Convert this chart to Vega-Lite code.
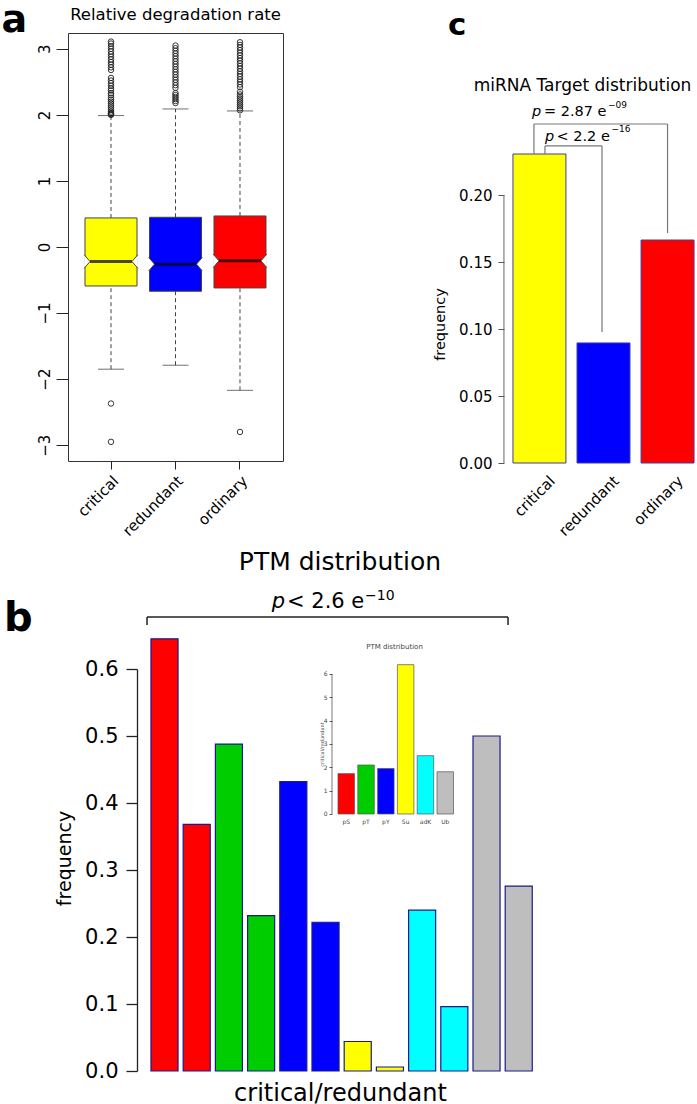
{
 "$schema": "https://vega.github.io/schema/vega-lite/v6.json",
 "background": "white",
 "padding": 0,
 "config": {
  "font": "DejaVu Sans",
  "view": {"stroke": null},
  "axis": {"labelFont": "DejaVu Sans", "titleFont": "DejaVu Sans", "labelColor": "#000", "titleColor": "#000", "tickColor": "#222", "domainColor": "#222", "grid": false, "titleFontWeight": "normal", "labelOverlap": false, "labelFlush": false},
  "title": {"font": "DejaVu Sans", "fontWeight": "normal", "color": "#000"}
 },
 "datasets": {
  "boxes": [
   {"grp": "critical", "lo": -1.85, "q1": -0.59, "med": -0.22, "q3": 0.44, "hi": 1.99},
   {"grp": "redundant", "lo": -1.79, "q1": -0.67, "med": -0.26, "q3": 0.45, "hi": 2.09},
   {"grp": "ordinary", "lo": -2.17, "q1": -0.62, "med": -0.21, "q3": 0.47, "hi": 2.06}
  ],
  "outliers": [
   {"grp":"critical","v":2.0},{"grp":"critical","v":2.01},{"grp":"critical","v":2.02},{"grp":"critical","v":2.03},{"grp":"critical","v":2.05},{"grp":"critical","v":2.08},{"grp":"critical","v":2.11},{"grp":"critical","v":2.14},{"grp":"critical","v":2.17},{"grp":"critical","v":2.2},{"grp":"critical","v":2.23},{"grp":"critical","v":2.26},{"grp":"critical","v":2.3},{"grp":"critical","v":2.33},{"grp":"critical","v":2.37},{"grp":"critical","v":2.4},{"grp":"critical","v":2.44},{"grp":"critical","v":2.48},{"grp":"critical","v":2.52},{"grp":"critical","v":2.56},{"grp":"critical","v":2.68},{"grp":"critical","v":2.72},{"grp":"critical","v":2.76},{"grp":"critical","v":2.8},{"grp":"critical","v":2.84},{"grp":"critical","v":2.88},{"grp":"critical","v":2.92},{"grp":"critical","v":2.96},{"grp":"critical","v":3.0},{"grp":"critical","v":3.04},{"grp":"critical","v":3.08},{"grp":"critical","v":3.11},{"grp":"critical","v":-2.37},{"grp":"critical","v":-2.95},
   {"grp":"redundant","v":2.18},{"grp":"redundant","v":2.21},{"grp":"redundant","v":2.24},{"grp":"redundant","v":2.27},{"grp":"redundant","v":2.3},{"grp":"redundant","v":2.33},{"grp":"redundant","v":2.41},{"grp":"redundant","v":2.45},{"grp":"redundant","v":2.49},{"grp":"redundant","v":2.53},{"grp":"redundant","v":2.57},{"grp":"redundant","v":2.61},{"grp":"redundant","v":2.65},{"grp":"redundant","v":2.69},{"grp":"redundant","v":2.73},{"grp":"redundant","v":2.77},{"grp":"redundant","v":2.81},{"grp":"redundant","v":2.85},{"grp":"redundant","v":2.89},{"grp":"redundant","v":2.93},{"grp":"redundant","v":2.97},{"grp":"redundant","v":3.01},{"grp":"redundant","v":3.05},
   {"grp":"ordinary","v":2.07},{"grp":"ordinary","v":2.1},{"grp":"ordinary","v":2.13},{"grp":"ordinary","v":2.16},{"grp":"ordinary","v":2.19},{"grp":"ordinary","v":2.22},{"grp":"ordinary","v":2.25},{"grp":"ordinary","v":2.28},{"grp":"ordinary","v":2.31},{"grp":"ordinary","v":2.35},{"grp":"ordinary","v":2.42},{"grp":"ordinary","v":2.46},{"grp":"ordinary","v":2.5},{"grp":"ordinary","v":2.54},{"grp":"ordinary","v":2.58},{"grp":"ordinary","v":2.62},{"grp":"ordinary","v":2.66},{"grp":"ordinary","v":2.7},{"grp":"ordinary","v":2.74},{"grp":"ordinary","v":2.78},{"grp":"ordinary","v":2.82},{"grp":"ordinary","v":2.86},{"grp":"ordinary","v":2.9},{"grp":"ordinary","v":2.94},{"grp":"ordinary","v":2.98},{"grp":"ordinary","v":3.02},{"grp":"ordinary","v":3.06},{"grp":"ordinary","v":3.1},{"grp":"ordinary","v":-2.8}
  ],
  "mirna": [
   {"grp": "critical", "freq": 0.2306},
   {"grp": "redundant", "freq": 0.0896},
   {"grp": "ordinary", "freq": 0.1664}
  ],
  "ptm": [
   {"ptm": "pS", "cls": "critical", "freq": 0.645},
   {"ptm": "pS", "cls": "redundant", "freq": 0.368},
   {"ptm": "pT", "cls": "critical", "freq": 0.488},
   {"ptm": "pT", "cls": "redundant", "freq": 0.232},
   {"ptm": "pY", "cls": "critical", "freq": 0.432},
   {"ptm": "pY", "cls": "redundant", "freq": 0.222},
   {"ptm": "Su", "cls": "critical", "freq": 0.044},
   {"ptm": "Su", "cls": "redundant", "freq": 0.006},
   {"ptm": "adK", "cls": "critical", "freq": 0.24},
   {"ptm": "adK", "cls": "redundant", "freq": 0.096},
   {"ptm": "Ub", "cls": "critical", "freq": 0.5},
   {"ptm": "Ub", "cls": "redundant", "freq": 0.276}
  ],
  "ratio": [
   {"ptm": "pS", "ratio": 1.73},
   {"ptm": "pT", "ratio": 2.1},
   {"ptm": "pY", "ratio": 1.95},
   {"ptm": "Su", "ratio": 6.4},
   {"ptm": "adK", "ratio": 2.5},
   {"ptm": "Ub", "ratio": 1.81}
  ]
 },
 "columns": 2,
 "align": "none",
 "bounds": "flush",
 "spacing": {"row": 206, "column": -42},
 "resolve": {"scale": {"fill": "independent"}},
 "concat": [
  {
   "width": 215,
   "height": 428,
   "view": {"stroke": "#333", "strokeWidth": 1},
   "title": {"text": "Relative degradation rate", "anchor": "middle", "frame": "group", "fontSize": 16.5, "baseline": "alphabetic", "offset": -35},
   "layer": [
    {"data": {"name": "boxes"}, "mark": {"type": "rule", "strokeDash": [4, 3], "color": "#444", "strokeWidth": 1},
     "encoding": {
      "x": {"field": "grp", "type": "nominal", "sort": ["critical", "redundant", "ordinary"], "scale": {"paddingInner": 0, "paddingOuter": 0.1667},
            "axis": {"title": null, "labelAngle": -45, "labelAlign": "right", "labelBaseline": "top", "labelFontSize": 15, "tickSize": 8, "labelPadding": 4, "domain": false}},
      "y": {"field": "q3", "type": "quantitative", "scale": {"domain": [-3.24, 3.24], "nice": false, "zero": false},
            "axis": {"values": [-3, -2, -1, 0, 1, 2, 3], "format": "d", "labelAngle": -90, "labelAlign": "center", "labelBaseline": "bottom", "labelFontSize": 15, "tickSize": 12, "labelPadding": 4, "domain": false,
                     "title": "a", "titleAngle": 0, "titleX": -67, "titleY": -2, "titleAlign": "left", "titleBaseline": "alphabetic", "titleFontSize": 38, "titleFontWeight": "bold"}},
      "y2": {"field": "hi"}
     }},
    {"data": {"name": "boxes"}, "mark": {"type": "rule", "strokeDash": [4, 3], "color": "#444", "strokeWidth": 1},
     "encoding": {"x": {"field": "grp", "type": "nominal", "sort": ["critical", "redundant", "ordinary"]}, "y": {"field": "lo", "type": "quantitative"}, "y2": {"field": "q1"}}},
    {"data": {"name": "boxes"}, "mark": {"type": "tick", "size": 26, "thickness": 1, "color": "#333"},
     "encoding": {"x": {"field": "grp", "type": "nominal", "sort": ["critical", "redundant", "ordinary"]}, "y": {"field": "hi", "type": "quantitative"}}},
    {"data": {"name": "boxes"}, "mark": {"type": "tick", "size": 26, "thickness": 1, "color": "#333"},
     "encoding": {"x": {"field": "grp", "type": "nominal", "sort": ["critical", "redundant", "ordinary"]}, "y": {"field": "lo", "type": "quantitative"}}},
    {"data": {"name": "boxes"}, "mark": {"type": "bar", "width": 52, "stroke": "#444", "strokeWidth": 1},
     "encoding": {"x": {"field": "grp", "type": "nominal", "sort": ["critical", "redundant", "ordinary"]}, "y": {"field": "q1", "type": "quantitative"}, "y2": {"field": "q3"},
      "fill": {"field": "grp", "type": "nominal", "scale": {"domain": ["critical", "redundant", "ordinary"], "range": ["#ffff00", "#0000ff", "#ff0000"]}, "legend": null}}},
    {"data": {"name": "boxes"}, "mark": {"type": "point", "shape": "M-0.12,-1L0.75,0L-0.12,1", "size": 180, "filled": true, "fill": "white", "stroke": "#444", "strokeWidth": 1, "opacity": 1, "xOffset": -26},
     "encoding": {"x": {"field": "grp", "type": "nominal", "sort": ["critical", "redundant", "ordinary"]}, "y": {"field": "med", "type": "quantitative"}}},
    {"data": {"name": "boxes"}, "mark": {"type": "point", "shape": "M0.12,-1L-0.75,0L0.12,1", "size": 180, "filled": true, "fill": "white", "stroke": "#444", "strokeWidth": 1, "opacity": 1, "xOffset": 26},
     "encoding": {"x": {"field": "grp", "type": "nominal", "sort": ["critical", "redundant", "ordinary"]}, "y": {"field": "med", "type": "quantitative"}}},
    {"data": {"name": "boxes"}, "mark": {"type": "tick", "size": 42, "thickness": 3, "color": "#000"},
     "encoding": {"x": {"field": "grp", "type": "nominal", "sort": ["critical", "redundant", "ordinary"]}, "y": {"field": "med", "type": "quantitative"}}},
    {"data": {"name": "outliers"}, "mark": {"type": "point", "filled": false, "size": 30, "stroke": "#222", "strokeWidth": 0.9, "opacity": 1},
     "encoding": {"x": {"field": "grp", "type": "nominal", "sort": ["critical", "redundant", "ordinary"]}, "y": {"field": "v", "type": "quantitative"}}}
   ]
  },
  {
   "width": 199,
   "height": 430,
   "title": {"text": "c", "anchor": "start", "frame": "group", "dx": -56, "offset": -33, "baseline": "alphabetic", "fontSize": 31, "fontWeight": "bold"},
   "layer": [
    {"data": {"name": "mirna"}, "mark": {"type": "bar", "stroke": "#3d3da0", "strokeWidth": 1},
     "encoding": {
      "x": {"field": "grp", "type": "nominal", "sort": ["critical", "redundant", "ordinary"], "scale": {"paddingInner": 0.173, "paddingOuter": 0.14},
            "axis": {"title": "miRNA Target distribution", "titleX": 78, "titleY": -373, "titleAlign": "center", "titleBaseline": "alphabetic", "titleFontSize": 17,
                     "labelAngle": -45, "labelAlign": "right", "labelBaseline": "top", "labelFontSize": 15, "labelOffset": 8, "labelPadding": 10, "ticks": false, "domain": false}},
      "y": {"field": "freq", "type": "quantitative", "scale": {"domain": [0, 0.3209], "nice": false},
            "axis": {"title": "frequency", "values": [0, 0.05, 0.1, 0.15, 0.2], "format": ".2f", "labelFontSize": 15, "tickSize": 6, "labelPadding": 6, "domain": false, "tickColor": "#555",
                     "titleFontSize": 14.5, "titleX": -64, "titleY": 291, "titleAngle": -90, "titleAlign": "center", "titleBaseline": "middle"}},
      "fill": {"field": "grp", "type": "nominal", "scale": {"domain": ["critical", "redundant", "ordinary"], "range": ["#ffff00", "#0000ff", "#ff0000"]}, "legend": null}
     }},
    {"data": {"values": [{}]}, "mark": {"type": "rule", "color": "#666", "strokeWidth": 1, "xOffset": -35.5},
     "encoding": {"x": {"datum": "critical"}, "y": {"datum": 0}, "y2": {"datum": 0.2}}},
    {"data": {"values": [{}]}, "mark": {"type": "rule", "color": "#777", "strokeWidth": 1.2, "xOffset": -5.5},
     "encoding": {"x": {"datum": "critical"}, "y": {"datum": 0.2306}, "y2": {"datum": 0.253}}},
    {"data": {"values": [{}]}, "mark": {"type": "rule", "color": "#777", "strokeWidth": 1.2, "xOffset": -5.5, "x2Offset": 0},
     "encoding": {"x": {"datum": "critical"}, "x2": {"datum": "ordinary"}, "y": {"datum": 0.253}}},
    {"data": {"values": [{}]}, "mark": {"type": "rule", "color": "#777", "strokeWidth": 1.2},
     "encoding": {"x": {"datum": "ordinary"}, "y": {"datum": 0.253}, "y2": {"datum": 0.1716}}},
    {"data": {"values": [{}]}, "mark": {"type": "rule", "color": "#777", "strokeWidth": 1.2, "xOffset": 5.5},
     "encoding": {"x": {"datum": "critical"}, "y": {"datum": 0.2306}, "y2": {"datum": 0.2366}}},
    {"data": {"values": [{}]}, "mark": {"type": "rule", "color": "#777", "strokeWidth": 1.2, "xOffset": 5.5, "x2Offset": -1.5},
     "encoding": {"x": {"datum": "critical"}, "x2": {"datum": "redundant"}, "y": {"datum": 0.2366}}},
    {"data": {"values": [{}]}, "mark": {"type": "rule", "color": "#777", "strokeWidth": 1.2, "xOffset": -1.5},
     "encoding": {"x": {"datum": "redundant"}, "y": {"datum": 0.2366}, "y2": {"datum": 0.0978}}},
    {"data": {"values": [{}]}, "mark": {"type": "text", "text": "p", "fontStyle": "italic", "fontSize": 14.5, "align": "left", "baseline": "alphabetic", "dx": -7.5},
     "encoding": {"x": {"datum": "critical"}, "y": {"datum": 0.259}}},
    {"data": {"values": [{}]}, "mark": {"type": "text", "text": "= 2.87 e", "fontSize": 14.5, "align": "left", "baseline": "alphabetic", "dx": 4.5},
     "encoding": {"x": {"datum": "critical"}, "y": {"datum": 0.259}}},
    {"data": {"values": [{}]}, "mark": {"type": "text", "text": "−09", "fontSize": 9, "align": "left", "baseline": "alphabetic", "dx": 68.5},
     "encoding": {"x": {"datum": "critical"}, "y": {"datum": 0.2649}}},
    {"data": {"values": [{}]}, "mark": {"type": "text", "text": "p", "fontStyle": "italic", "fontSize": 14.5, "align": "left", "baseline": "alphabetic", "dx": 5.5},
     "encoding": {"x": {"datum": "critical"}, "y": {"datum": 0.2403}}},
    {"data": {"values": [{}]}, "mark": {"type": "text", "text": "< 2.2 e", "fontSize": 14.5, "align": "left", "baseline": "alphabetic", "dx": 17},
     "encoding": {"x": {"datum": "critical"}, "y": {"datum": 0.2403}}},
    {"data": {"values": [{}]}, "mark": {"type": "text", "text": "−16", "fontSize": 9, "align": "left", "baseline": "alphabetic", "dx": 72},
     "encoding": {"x": {"datum": "critical"}, "y": {"datum": 0.247}}}
   ]
  },
  {
   "width": 478,
   "height": 402,
   "title": {"text": "PTM distribution", "anchor": "middle", "frame": "group", "dx": 33, "fontSize": 25, "baseline": "alphabetic", "offset": -6},
   "resolve": {"scale": {"x": "independent", "y": "independent"}, "axis": {"x": "independent", "y": "independent"}},
   "layer": [
    {
     "layer": [
      {"data": {"name": "ptm"}, "mark": {"type": "bar", "stroke": "#1a1a8c", "strokeWidth": 1.2},
       "encoding": {
        "x": {"field": "ptm", "type": "nominal", "sort": ["pS", "pT", "pY", "Su", "adK", "Ub"], "scale": {"paddingInner": 0, "paddingOuter": 0.711, "align": 0.878},
              "axis": {"orient": "bottom", "labels": false, "ticks": false, "domain": false, "title": "critical/redundant", "titleFontSize": 24, "titleX": 272, "titleY": 29, "titleAlign": "center", "titleBaseline": "alphabetic"}},
        "xOffset": {"field": "cls", "type": "nominal", "sort": ["critical", "redundant"], "scale": {"paddingInner": 0.16, "paddingOuter": 0.08}},
        "y": {"field": "freq", "type": "quantitative", "scale": {"domain": [0, 0.6], "nice": false},
              "axis": {"orient": "left", "offset": -69, "values": [0, 0.1, 0.2, 0.3, 0.4, 0.5, 0.6], "format": ".1f", "labelFontSize": 21, "tickSize": 11, "labelPadding": 8, "domainWidth": 1.3, "tickWidth": 1.3,
                       "title": "frequency", "titleFontSize": 19, "titleX": -73, "titleY": 189, "titleAngle": -90, "titleAlign": "center", "titleBaseline": "middle"}},
        "fill": {"field": "ptm", "type": "nominal", "scale": {"domain": ["pS", "pT", "pY", "Su", "adK", "Ub"], "range": ["#ff0000", "#00cd00", "#0000ff", "#ffff00", "#00ffff", "#bebebe"]}, "legend": null}
       }},
      {"data": {"values": [{}]}, "mark": {"type": "rule", "color": "#222", "strokeWidth": 1.5, "xOffset": -33.6, "x2Offset": 5.4},
       "encoding": {"x": {"datum": "pS"}, "x2": {"datum": "Ub"}, "y": {"datum": 0.6776}}},
      {"data": {"values": [{}]}, "mark": {"type": "rule", "color": "#222", "strokeWidth": 1.5, "xOffset": -33.6},
       "encoding": {"x": {"datum": "pS"}, "y": {"datum": 0.6776}, "y2": {"datum": 0.6657}}},
      {"data": {"values": [{}]}, "mark": {"type": "rule", "color": "#222", "strokeWidth": 1.5, "xOffset": 5.4},
       "encoding": {"x": {"datum": "Ub"}, "y": {"datum": 0.6776}, "y2": {"datum": 0.6657}}},
      {"data": {"values": [{}]}, "mark": {"type": "text", "text": "p", "fontStyle": "italic", "fontSize": 21, "align": "right", "baseline": "alphabetic", "dx": -24.4},
       "encoding": {"x": {"datum": "pY"}, "y": {"datum": 0.691}}},
      {"data": {"values": [{}]}, "mark": {"type": "text", "text": "< 2.6 e", "fontSize": 21, "align": "left", "baseline": "alphabetic", "dx": -22.4},
       "encoding": {"x": {"datum": "pY"}, "y": {"datum": 0.691}}},
      {"data": {"values": [{}]}, "mark": {"type": "text", "text": "−10", "fontSize": 14, "align": "left", "baseline": "alphabetic", "dx": 55.6},
       "encoding": {"x": {"datum": "pY"}, "y": {"datum": 0.703}}},
      {"data": {"values": [{}]}, "mark": {"type": "text", "text": "b", "fontSize": 40, "fontWeight": "bold", "align": "left", "baseline": "alphabetic", "dx": -176.6},
       "encoding": {"x": {"datum": "pS"}, "y": {"datum": 0.6567}}}
     ]
    },
    {
     "layer": [
      {"data": {"name": "ratio"}, "mark": {"type": "bar", "stroke": "#555", "strokeWidth": 0.7},
       "encoding": {
        "x": {"field": "ptm", "type": "nominal", "sort": ["pS", "pT", "pY", "Su", "adK", "Ub"], "scale": {"range": [270, 385.5], "paddingInner": 0.1667, "paddingOuter": 0},
              "axis": {"orient": "bottom", "offset": -257, "labelFontSize": 6, "labelPadding": 4, "labelColor": "#444", "labelAngle": 0, "ticks": false, "domain": false,
                       "title": "PTM distribution", "titleFontSize": 7, "titleColor": "#444", "titleX": 326, "titleY": -168, "titleAlign": "center", "titleBaseline": "middle"}},
        "y": {"field": "ratio", "type": "quantitative", "scale": {"domain": [-11.014, 6.214], "nice": false, "zero": false},
              "axis": {"orient": "left", "offset": -264, "values": [0, 1, 2, 3, 4, 5, 6], "labelFontSize": 6, "labelColor": "#444", "tickSize": 3, "tickColor": "#555", "labelPadding": 2, "domain": false,
                       "title": "critical/redundant", "titleFontSize": 5, "titleColor": "#555", "titleX": -11, "titleY": 75, "titleAngle": -90, "titleAlign": "center", "titleBaseline": "middle"}},
        "y2": {"datum": 0},
        "fill": {"field": "ptm", "type": "nominal", "legend": null}
       }},
      {"data": {"values": [{}]}, "mark": {"type": "rule", "color": "#555", "strokeWidth": 0.8, "xOffset": -14.25},
       "encoding": {"x": {"datum": "pS"}, "y": {"datum": 0}, "y2": {"datum": 6}}}
     ]
    }
   ]
  }
 ]
}
